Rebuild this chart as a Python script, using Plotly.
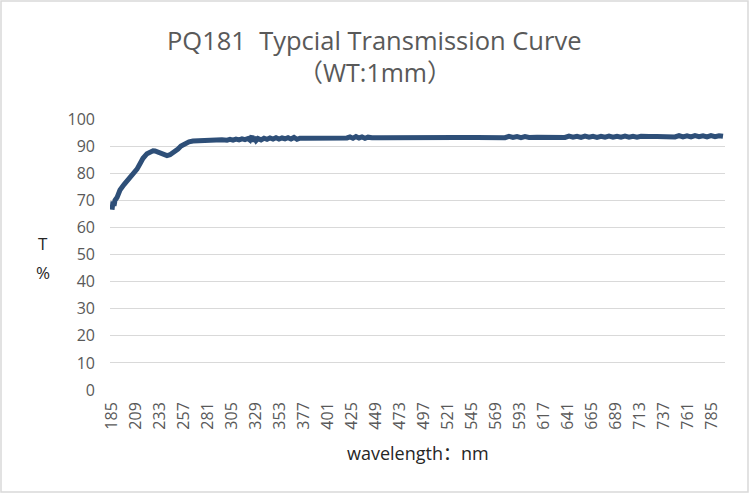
import plotly.graph_objects as go

wavelength = [185,186,187,188,190,193,197,201,205,210,213,216,220,223,226,228,231,233,236,240,243,245,248,251,254,258,262,266,270,275,280,285,290,295,300,303,306,309,312,315,318,321,323,325,326,327,329,331,334,337,340,343,346,349,352,355,358,361,364,367,370,373,378,385,395,405,415,420,423,426,429,432,435,438,441,445,455,470,490,510,530,550,570,574,578,582,586,590,594,598,602,610,620,630,634,638,642,646,650,654,658,662,666,670,674,678,682,686,690,694,698,702,706,710,714,718,722,730,740,744,748,752,756,760,764,768,772,776,780,784,788,792,796]
transmission = [66.5,69.5,68,70,71,73.8,75.8,77.5,79.2,81.5,83.5,85.5,87.2,88,88.3,88.2,87.8,87.3,86.8,86.5,86.8,87.2,88,88.9,90,91,91.6,91.9,92,92.1,92.2,92.2,92.2,92.3,92.2,92.5,92.2,92.6,92.3,92.7,92.4,92.8,92.2,93.8,91.6,93.2,92.0,92.8,92.3,92.9,92.5,93.0,92.6,93.1,92.6,93.0,92.7,93.1,92.6,93.2,92.5,92.9,92.9,92.9,92.9,93.0,93.0,93.0,93.4,92.9,93.5,93.0,93.4,92.9,93.3,93.1,93.1,93.2,93.2,93.2,93.2,93.2,93.2,93.5,93.1,93.6,93.2,93.5,93.1,93.5,93.2,93.3,93.3,93.3,93.6,93.2,93.7,93.3,93.6,93.2,93.7,93.3,93.6,93.2,93.6,93.3,93.7,93.3,93.6,93.3,93.7,93.3,93.6,93.3,93.6,93.4,93.5,93.5,93.5,93.8,93.4,93.9,93.4,93.8,93.4,93.9,93.5,93.8,93.4,93.9,93.5,93.8,93.6]
x_ticks = list(range(185, 786, 24))
y_ticks = list(range(0, 101, 10))

font_family = "'Open Sans', 'Noto Sans CJK SC', sans-serif"
gray = "#595959"

fig = go.Figure()
fig.add_trace(go.Scatter(x=wavelength, y=transmission, mode="lines",
                         line=dict(color="#2E4F78", width=5), showlegend=False))

fig.update_layout(
    width=750, height=494,
    margin=dict(l=110, r=25, t=119, b=104),
    paper_bgcolor="white", plot_bgcolor="white",
    font=dict(family=font_family, color=gray, size=16),
    xaxis=dict(range=[183, 798], tickvals=x_ticks, ticktext=[str(v) for v in x_ticks],
               tickangle=-90, showgrid=False, zeroline=False, showline=False,
               ticks="", ticklabelstandoff=8, tickfont=dict(size=16, color=gray)),
    yaxis=dict(range=[0, 100], tickvals=y_ticks, showgrid=True, gridcolor="#D9D9D9",
               gridwidth=1, zeroline=False, showline=False, ticks="",
               ticklabelstandoff=14, tickfont=dict(size=16, color=gray)),
    annotations=[
        dict(text="PQ181  Typcial Transmission Curve", showarrow=False, font=dict(size=25.5, color=gray)),
        dict(text="（WT:1mm）", showarrow=False, font=dict(size=25, color=gray)),
        dict(text="T", showarrow=False, font=dict(size=17, color="#262626")),
        dict(text="%", showarrow=False, font=dict(size=17, color="#262626")),
        dict(text="wavelength：nm", showarrow=False, font=dict(size=18, color="#262626")),
    ],
    shapes=[dict(type="rect", xref="paper", yref="paper",
                 x0=(1 - 110) / 615, x1=(748 - 110) / 615,
                 y0=(390 - 492) / 271, y1=(390 - 1) / 271,
                 line=dict(color="#D9D9D9", width=1.5), fillcolor="rgba(0,0,0,0)", layer="below")],
)

def px(xp, yp):
    return (xp - 110) / 615, (390 - yp) / 271

anns = list(fig.layout.annotations)
positions = [(374, 40), (375, 72), (43, 243), (43, 272), (418, 453)]
new = []
for a, (xp, yp) in zip(anns, positions):
    xx, yy = px(xp, yp)
    a.update(x=xx, y=yy, xref="paper", yref="paper", xanchor="center", yanchor="middle")
    new.append(a)
fig.layout.annotations = new

fig.write_html("out.html")
